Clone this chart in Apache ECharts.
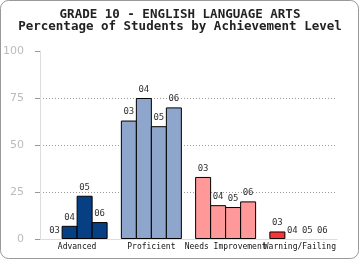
<!DOCTYPE html>
<html><head><meta charset="utf-8">
<script src="https://cdn.jsdelivr.net/npm/echarts@6/dist/echarts.min.js"></script>
<style>html,body{margin:0;padding:0;background:#fff}#c{width:360px;height:260px}</style>
</head><body><div id="c"></div>
<script>
var categories = ['Advanced', 'Proficient', 'Needs Improvement', 'Warning/Failing'];
var seriesNames = ['03', '04', '05', '06'];
var values03 = [0, 63, 33, 4];
var values04 = [7, 75, 18, 0];
var values05 = [23, 60, 17, 0];
var values06 = [9, 70, 20, 0];
var yTicks = [0, 25, 50, 75, 100];
var catColors = ['#063f84', '#8ea6cc', '#ff9999', '#ff3333'];

var allValues = [values03, values04, values05, values06];
var chart = echarts.init(document.getElementById('c'), null, {renderer: 'canvas'});
var series = seriesNames.map(function (name, i) {
  return {
    name: name, type: 'bar', barWidth: 16, barGap: '-6.25%',
    data: allValues[i].map(function (v, j) {
      return {value: v, itemStyle: {color: catColors[j], borderWidth: v === 0 ? 0 : 1}};
    }),
    itemStyle: {borderColor: '#000', borderWidth: 1},
    label: {show: true, position: 'top', distance: 4, formatter: name,
      fontFamily: 'DejaVu Sans Mono', fontSize: 9, color: '#333'}
  };
});
chart.setOption({
  animation: false,
  backgroundColor: '#fff',
  title: {
    text: 'GRADE 10 - ENGLISH LANGUAGE ARTS\nPercentage of Students by Achievement Level',
    left: 'center', top: 4,
    textStyle: {fontFamily: 'DejaVu Sans Mono', fontSize: 12.5, fontWeight: 'bold', color: '#222', lineHeight: 12}
  },
  graphic: [{type: 'rect', shape: {x: 0.5, y: 0.5, width: 358, height: 258, r: 8},
    style: {fill: 'none', stroke: '#999', lineWidth: 1}, silent: true}],
  grid: {left: 37, right: 23, top: 51, bottom: 21},
  xAxis: {
    type: 'category', data: categories,
    axisLine: {lineStyle: {color: '#ddd'}},
    axisTick: {show: false},
    axisLabel: {interval: 0, margin: 4, fontFamily: 'DejaVu Sans Mono', fontSize: 8, color: '#111'}
  },
  yAxis: {
    type: 'value', min: 0, max: 100, interval: 25,
    axisLine: {show: true, lineStyle: {color: '#ddd'}},
    axisTick: {show: true, length: 5, lineStyle: {color: '#999'}},
    axisLabel: {margin: 16, fontFamily: 'DejaVu Sans', fontSize: 11, color: '#bbb',
      formatter: function (v) { return yTicks.indexOf(v) >= 0 ? String(v) : ''; }},
    splitLine: {showMaxLine: false, lineStyle: {color: '#999', type: [1, 2], width: 1}}
  },
  series: series
});
</script></body></html>
